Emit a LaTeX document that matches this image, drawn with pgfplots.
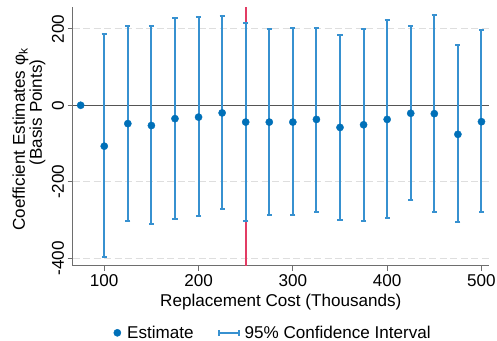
\documentclass[border=0pt]{standalone}
\usepackage{fontspec}
\setmainfont{Liberation Sans}
\usepackage{pgfplots}
\pgfplotsset{compat=1.18}
\usepackage{pgfplotstable}

\definecolor{dotblue}{RGB}{0,112,184}
\definecolor{barblue}{RGB}{55,145,208}
\definecolor{refred}{RGB}{226,60,100}
\definecolor{axisgray}{RGB}{110,110,110}
\definecolor{gridgray}{RGB}{222,222,222}
\definecolor{zerogray}{RGB}{85,85,85}

% Point estimates by replacement-cost bin (75 is the omitted reference bin)
\pgfplotstableread{
x   est
75    0
100 -107
125  -48
150  -53
175  -35
200  -31
225  -20
250  -44
275  -44
300  -44
325  -37
350  -58
375  -51
400  -37
425  -21
450  -22
475  -76
500  -43
}\estimates

% 95% confidence bounds
\pgfplotstableread{
x   est   lo   hi
100 -107 -397 186
125  -48 -302 208
150  -53 -311 206
175  -35 -297 227
200  -31 -290 231
225  -20 -272 234
250  -44 -302 216
275  -44 -286 199
300  -44 -286 201
325  -37 -279 203
350  -58 -299 185
375  -51 -302 200
400  -37 -295 222
425  -21 -247 208
450  -22 -278 235
475  -76 -306 157
500  -43 -279 197
}\bounds

\begin{document}
\begin{tikzpicture}[font=\fontsize{17.1pt}{20pt}\selectfont]
\useasboundingbox (-72.7pt,-75pt) rectangle (424.6pt,266pt);
\fill[white] (-72.7pt,-75pt) rectangle (424.6pt,266pt);
\begin{axis}[
  at={(0pt,0pt)}, anchor=south west,
  scale only axis, width=416.6pt, height=259pt,
  xmin=66.5, xmax=508, ymin=-420, ymax=257,
  axis x line*=bottom, axis y line*=left,
  axis line style={axisgray, line width=1.1pt, -},
  xtick={100,200,300,400,500},
  ytick={-400,-200,0,200},
  yticklabels={-400,-200,0,200},
  tick align=outside, major tick length=5pt,
  tick style={axisgray, line width=1pt},
  minor tick num=0,
  ymajorgrids,
  grid style={gridgray, line width=1pt, dash pattern=on 7pt off 3.5pt},
  /pgf/number format/assume math mode=true,
  yticklabel style={rotate=90, anchor=south},
  xticklabel style={anchor=north},
  xlabel={Replacement Cost (Thousands)},
  xlabel style={at={(rel axis cs:0.5,0)}, anchor=base, yshift=-40.7pt},
  legend columns=2,
  legend style={at={(rel axis cs:0.4816,0)}, anchor=center, yshift=-67pt,
    draw=none, fill=none,
    /tikz/every even column/.append style={column sep=22pt}},
]
\addlegendimage{legend image code/.code={%
  \fill[dotblue] (0pt,0pt) circle (3.6pt);}}
\addlegendentry{\hspace*{4pt}Estimate}
\addlegendimage{legend image code/.code={%
  \draw[draw=barblue, line width=2pt] (0pt,0pt) -- (20pt,0pt)
    (0pt,-3pt) -- (0pt,3pt) (20pt,-3pt) -- (20pt,3pt);}}
\addlegendentry{\hspace*{3pt}95\% Confidence Interval}

% reference lines
\addplot[draw=zerogray, line width=1.4pt, forget plot] coordinates {(66.5,0) (508,0)};
\addplot[draw=refred, line width=1.7pt, forget plot] coordinates {(250,-420) (250,257)};

% confidence intervals with capped ends
\addplot[color=barblue, only marks, mark=none, forget plot,
  error bars/.cd, y dir=both, y explicit,
  error mark=-,
  error mark options={rotate=90, draw=barblue, mark size=2.6pt, line width=2pt},
  error bar style={draw=barblue, line width=2pt}]
  table[x=x, y=est,
        y error plus expr=\thisrow{hi}-\thisrow{est},
        y error minus expr=\thisrow{est}-\thisrow{lo}] {\bounds};

% point estimates
\addplot[only marks, mark=*, mark size=3.6pt, color=dotblue,
  mark options={draw=dotblue, fill=dotblue}, forget plot]
  table[x=x, y=est] {\estimates};
\end{axis}

% two-line y-axis title
\node[rotate=90, anchor=base] at (-47.7pt,126.5pt) {Coefficient Estimates φ\textsubscript{k}};
\node[rotate=90, anchor=base] at (-30.7pt,153.5pt) {(Basis Points)};
\end{tikzpicture}
\end{document}
